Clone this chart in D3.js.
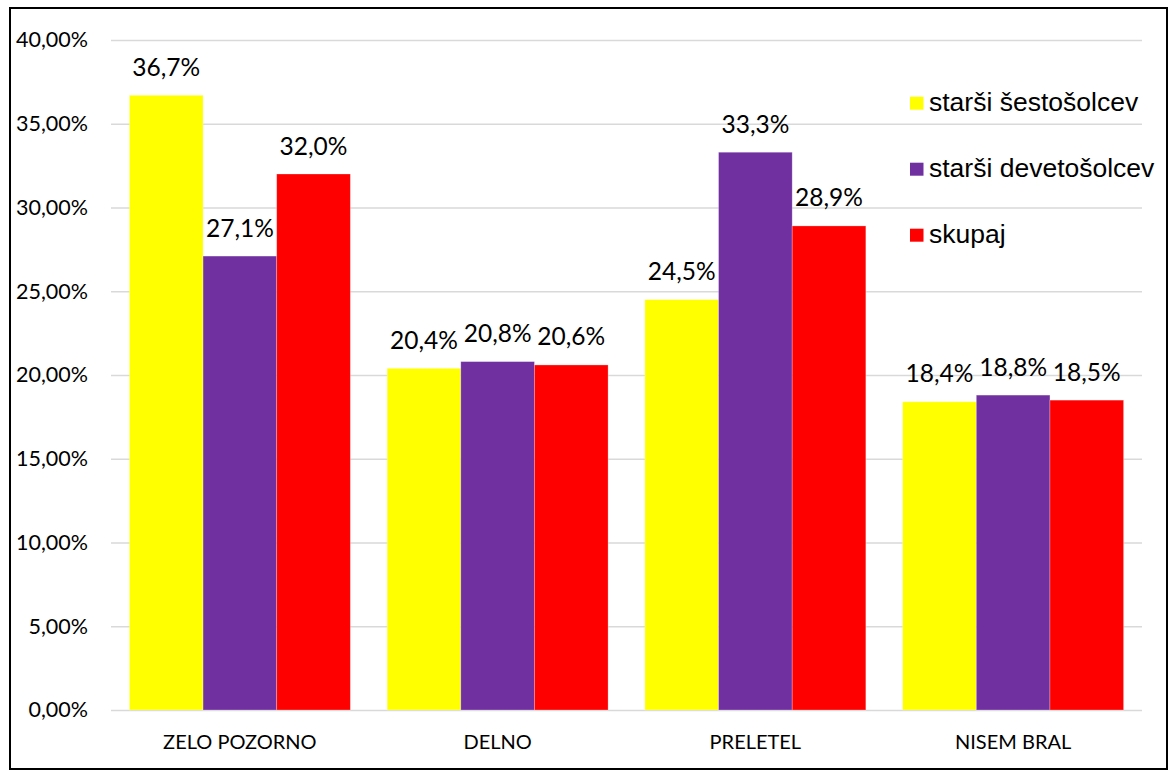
<!DOCTYPE html>
<html>
<head>
<meta charset="utf-8">
<script src="https://cdn.jsdelivr.net/npm/d3@7"></script>
<style>
  html, body { margin: 0; padding: 0; background: #fff; }
  svg { display: block; }
</style>
</head>
<body>
<svg id="chart" width="1175" height="776"></svg>
<script>
const categories = ["ZELO POZORNO", "DELNO", "PRELETEL", "NISEM BRAL"];
const seriesNames = ["starši šestošolcev", "starši devetošolcev", "skupaj"];
const seriesColors = ["#FFFF00", "#7030A0", "#FF0000"];
const sestosolci = [36.7, 20.4, 24.5, 18.4];
const devetosolci = [27.1, 20.8, 33.3, 18.8];
const skupaj = [32.0, 20.6, 28.9, 18.5];
const yTicks = [0, 5, 10, 15, 20, 25, 30, 35, 40];

const series = [sestosolci, devetosolci, skupaj];
const fmtTick = v => v.toFixed(2).replace(".", ",") + "%";
const fmtLabel = v => v.toFixed(1).replace(".", ",") + "%";

const svg = d3.select("#chart");
const labelFont = "Lato, 'Open Sans', sans-serif";

// outer frame
svg.append("rect")
  .attr("x", 10).attr("y", 8)
  .attr("width", 1157).attr("height", 761)
  .attr("fill", "none").attr("stroke", "#000").attr("stroke-width", 2);

const plot = { left: 111, right: 1142, top: 40, bottom: 710 };

const y = d3.scaleLinear().domain([0, 40]).range([plot.bottom, plot.top]);
const x0 = d3.scaleBand().domain(categories)
  .range([plot.left, plot.right])
  .paddingInner(1 / 7).paddingOuter(1 / 14);
const x1 = d3.scaleBand().domain(d3.range(series.length))
  .range([0, x0.bandwidth()]).padding(0);

// gridlines
const yAxis = d3.axisLeft(y).tickValues(yTicks).tickFormat(fmtTick)
  .tickSize(-(plot.right - plot.left)).tickPadding(23);
const gAxis = svg.append("g")
  .attr("transform", `translate(${plot.left},0)`)
  .call(yAxis);
gAxis.select(".domain").remove();
gAxis.selectAll(".tick line").attr("stroke", "#d9d9d9").attr("stroke-width", 1.5);
gAxis.selectAll(".tick text")
  .attr("font-family", labelFont).attr("font-size", 21.5)
  .attr("fill", "#000");

// bars
const groups = svg.append("g").selectAll("g")
  .data(categories).join("g")
  .attr("transform", d => `translate(${x0(d)},0)`);

groups.selectAll("rect")
  .data((c, i) => series.map((s, k) => ({ k, v: s[i] })))
  .join("rect")
  .attr("x", d => x1(d.k))
  .attr("width", x1.bandwidth())
  .attr("y", d => y(d.v))
  .attr("height", d => y(0) - y(d.v))
  .attr("fill", d => seriesColors[d.k])
  .attr("stroke", "#fff").attr("stroke-opacity", 0.35).attr("stroke-width", 0.75);

groups.selectAll("text")
  .data((c, i) => series.map((s, k) => ({ k, v: s[i] })))
  .join("text")
  .attr("x", d => x1(d.k) + x1.bandwidth() / 2)
  .attr("y", d => y(d.v) - 19.5)
  .attr("text-anchor", "middle")
  .attr("font-family", labelFont).attr("font-size", 24.5)
  .attr("fill", "#000")
  .text(d => fmtLabel(d.v));

// category axis labels
svg.append("g").selectAll("text")
  .data(categories).join("text")
  .attr("x", d => x0(d) + x0.bandwidth() / 2)
  .attr("y", 749)
  .attr("text-anchor", "middle")
  .attr("font-family", labelFont).attr("font-size", 20)
  .attr("fill", "#000")
  .text(d => d);

// legend
const legend = svg.append("g").selectAll("g")
  .data(seriesNames).join("g")
  .attr("transform", (d, i) => `translate(910,${111 + i * 66})`);
legend.append("rect")
  .attr("x", 0).attr("y", -14.3).attr("width", 13.5).attr("height", 13)
  .attr("fill", (d, i) => seriesColors[i]);
legend.append("text")
  .attr("x", 19).attr("y", 0)
  .attr("font-family", "'Liberation Sans', Arial, sans-serif")
  .attr("font-size", 26.5).attr("fill", "#000")
  .text(d => d);
</script>
</body>
</html>
